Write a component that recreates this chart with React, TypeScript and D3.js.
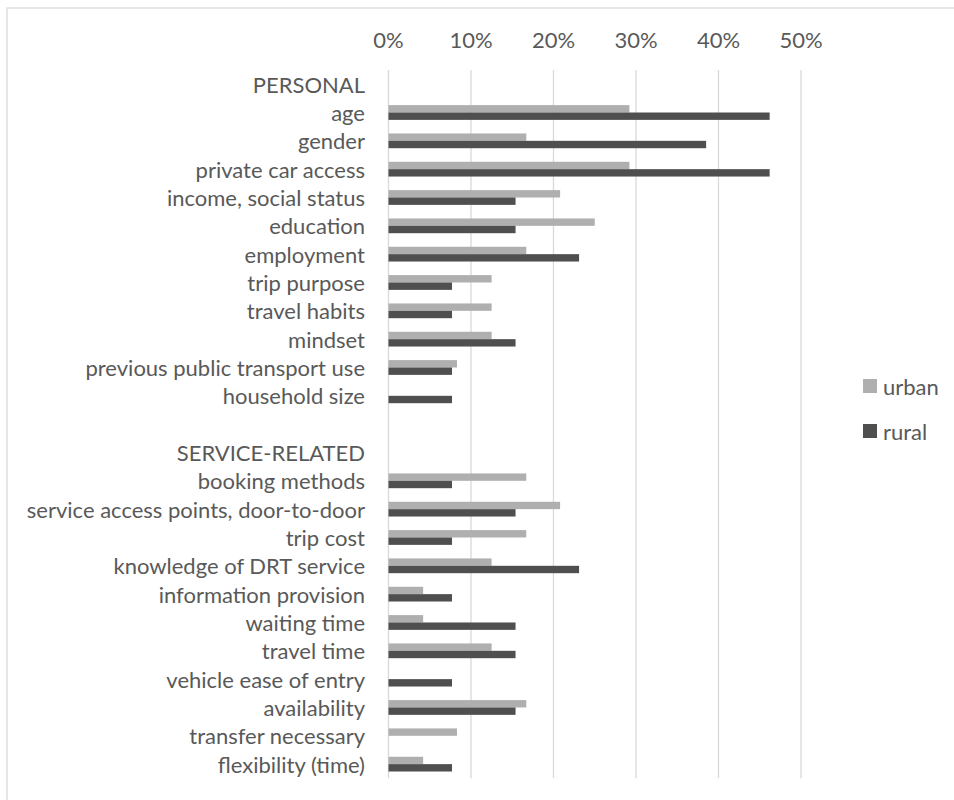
import React from "react";
import * as d3 from "d3";

const categories: string[] = [
  "PERSONAL",
  "age",
  "gender",
  "private car access",
  "income, social status",
  "education",
  "employment",
  "trip purpose",
  "travel habits",
  "mindset",
  "previous public transport use",
  "household size",
  "",
  "SERVICE-RELATED",
  "booking methods",
  "service access points, door-to-door",
  "trip cost",
  "knowledge of DRT service",
  "information provision",
  "waiting time",
  "travel time",
  "vehicle ease of entry",
  "availability",
  "transfer necessary",
  "flexibility (time)",
];

const urban: (number | null)[] = [
  null, 29.2, 16.7, 29.2, 20.8, 25.0, 16.7, 12.5, 12.5, 12.5, 8.3, 0,
  null, null, 16.7, 20.8, 16.7, 12.5, 4.2, 4.2, 12.5, 0, 16.7, 8.3, 4.2,
];

const rural: (number | null)[] = [
  null, 46.2, 38.5, 46.2, 15.4, 15.4, 23.1, 7.7, 7.7, 15.4, 7.7, 7.7,
  null, null, 7.7, 15.4, 7.7, 23.1, 7.7, 15.4, 15.4, 7.7, 15.4, 0, 7.7,
];

const tickValues: number[] = [0, 10, 20, 30, 40, 50];
const seriesNames = ["urban", "rural"];
const seriesColors: Record<string, string> = { urban: "#afafaf", rural: "#4f4f4f" };

const W = 954;
const H = 800;
const FONT = "Lato, 'Open Sans', sans-serif";
const TEXT = "#595959";
const FS = 22;

export default function App() {
  const x = d3.scaleLinear().domain([0, 50]).range([388.5, 801]);
  const y = d3
    .scaleBand<number>()
    .domain(categories.map((_, i) => i))
    .range([70, 778.3])
    .padding(0);
  const inner = d3
    .scaleBand<string>()
    .domain(seriesNames)
    .range([0, y.bandwidth()])
    .paddingInner(0)
    .paddingOuter(0.92);

  const seriesData: Record<string, (number | null)[]> = { urban, rural };

  return (
    <svg
      width={W}
      height={H}
      style={{ position: "absolute", left: 0, top: 0, background: "#fff" }}
      fontFamily={FONT}
    >
      <rect x={7} y={8} width={1000} height={1000} fill="#fff" stroke="#d9d9d9" strokeWidth={1.3} />
      {tickValues.map((t) => (
        <g key={t}>
          <line x1={x(t)} x2={x(t)} y1={70} y2={778.3} stroke="#d9d9d9" strokeWidth={1.3} />
          <text
            x={x(t)}
            y={39}
            textAnchor="middle"
            dominantBaseline="central"
            fontSize={FS}
            fill={TEXT}
          >
            {`${t}%`}
          </text>
        </g>
      ))}
      {categories.map((c, i) => (
        <text
          key={i}
          x={365}
          y={(y(i) as number) + y.bandwidth() / 2}
          textAnchor="end"
          dominantBaseline="central"
          fontSize={FS}
          fill={TEXT}
        >
          {c}
        </text>
      ))}
      {seriesNames.map((s) =>
        seriesData[s].map((v, i) =>
          v ? (
            <rect
              key={s + i}
              x={x(0)}
              y={(y(i) as number) + (inner(s) as number)}
              width={x(v) - x(0)}
              height={inner.bandwidth()}
              fill={seriesColors[s]}
            />
          ) : null
        )
      )}
      {seriesNames.map((s, i) => (
        <g key={s} transform={`translate(863, ${386 + i * 45})`}>
          <rect x={0} y={-7} width={14} height={14} fill={seriesColors[s]} />
          <text x={20} y={0} dominantBaseline="central" fontSize={FS} fill={TEXT}>
            {s}
          </text>
        </g>
      ))}
    </svg>
  );
}
